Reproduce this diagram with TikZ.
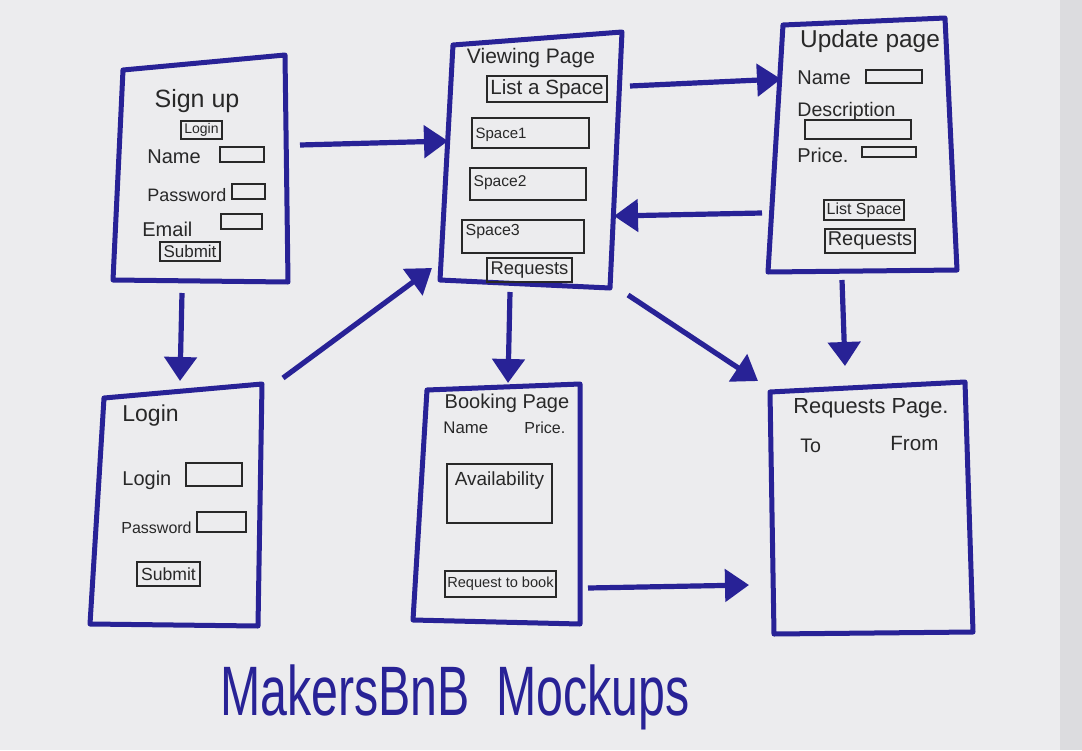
\documentclass[tikz,border=0pt]{standalone}
\usepackage{fontspec}
\setmainfont{Liberation Sans}
\usetikzlibrary{arrows.meta,fit}
\definecolor{penblue}{RGB}{40,34,150}
\definecolor{ink}{RGB}{40,40,40}
\definecolor{paper}{RGB}{236,236,238}
\definecolor{edgegray}{RGB}{220,220,223}
\begin{document}
\begin{tikzpicture}[x=0.5pt,y=-0.5pt,
  page/.style={draw=penblue,line width=2.5pt,line join=round},
  ui/.style={draw=ink,line width=0.8pt,inner sep=0pt},
  lbl/.style={text=ink,inner sep=0pt},
  flow/.style={draw=penblue,line width=2.6pt,-{Triangle[length=12pt,width=16pt]}}]
\fill[paper] (0,0) rectangle (1082,750);
\fill[edgegray] (1060,0) rectangle (1082,750);
\useasboundingbox (0,0) rectangle (1082,750);

% ---------- pages ----------
\draw[page] (123,70) -- (285,55) -- (288,282) -- (113,280) -- cycle;
\draw[page] (453,45) -- (622,32) -- (610,288) -- (440,280) -- cycle;
\draw[page] (783,25) -- (945,18) -- (957,270) -- (768,272) -- cycle;
\draw[page] (104,398) -- (262,384) -- (258,626) -- (90,624) -- cycle;
\draw[page] (427,390) -- (580,384) -- (580,624) -- (413,620) -- cycle;
\draw[page] (770,392) -- (965,382) -- (973,632) -- (774,634) -- cycle;

% ---------- Sign up ----------
\node[lbl,font=\fontsize{12.5}{14}\selectfont] (su-t) at (197,101) {Sign up};
\node[ui,fit={(181,121) (222,139)},label={[lbl,font=\fontsize{7}{8}\selectfont]center:Login}] (su-login) {};
\node[lbl,font=\fontsize{10}{12}\selectfont,anchor=west] (su-name) at (147,157) {Name};
\node[ui,fit={(220,147) (264,162)}] (su-namebox) {};
\node[lbl,font=\fontsize{9}{11}\selectfont,anchor=west] (su-pw) at (147,195) {Password};
\node[ui,fit={(232,184) (265,199)}] (su-pwbox) {};
\node[lbl,font=\fontsize{10}{12}\selectfont,anchor=west] (su-em) at (142,229) {Email};
\node[ui,fit={(221,214) (262,229)}] (su-embox) {};
\node[ui,fit={(160,242) (220,261)},label={[lbl,font=\fontsize{8.5}{10}\selectfont]center:Submit}] (su-sub) {};

% ---------- Viewing page ----------
\node[lbl,font=\fontsize{10.5}{12}\selectfont] (vp-t) at (531,58) {Viewing Page};
\node[ui,fit={(487,76) (607,102)},label={[lbl,font=\fontsize{10.3}{12}\selectfont]center:List a Space}] (vp-list) {};
\node[ui,fit={(472,118) (589,148)},label={[lbl,anchor=west,font=\fontsize{7.5}{9}\selectfont,xshift=2pt,yshift=-1pt]west:Space1}] (vp-s1) {};
\node[ui,fit={(470,168) (586,200)},label={[lbl,anchor=west,font=\fontsize{7.8}{9}\selectfont,xshift=2pt,yshift=0.5pt]west:Space2}] (vp-s2) {};
\node[ui,fit={(462,220) (584,253)},label={[lbl,anchor=west,font=\fontsize{8}{9}\selectfont,xshift=2pt,yshift=2.5pt]west:Space3}] (vp-s3) {};
\node[ui,fit={(487,258) (572,282)},label={[lbl,font=\fontsize{9.2}{11}\selectfont]center:Requests}] (vp-req) {};

% ---------- Update page ----------
\node[lbl,font=\fontsize{12.2}{14}\selectfont] (up-t) at (870,41) {Update page};
\node[lbl,font=\fontsize{10}{12}\selectfont,anchor=west] (up-name) at (797,78) {Name};
\node[ui,fit={(866,70) (922,83)}] (up-namebox) {};
\node[lbl,font=\fontsize{9.8}{12}\selectfont,anchor=west] (up-desc) at (797,111) {Description};
\node[ui,fit={(805,120) (911,139)}] (up-descbox) {};
\node[lbl,font=\fontsize{10}{12}\selectfont,anchor=west] (up-price) at (797,155) {Price.};
\node[ui,fit={(862,147) (916,157)}] (up-pricebox) {};
\node[ui,fit={(824,200) (904,220)},label={[lbl,font=\fontsize{8}{10}\selectfont]center:List Space}] (up-list) {};
\node[ui,fit={(825,229) (915,253)},label={[lbl,font=\fontsize{10}{12}\selectfont]center:Requests}] (up-req) {};

% ---------- Login ----------
\node[lbl,font=\fontsize{11.5}{14}\selectfont,anchor=west] (li-t) at (122,416) {Login};
\node[lbl,font=\fontsize{10}{12}\selectfont,anchor=west] (li-login) at (122,480) {Login};
\node[ui,fit={(186,463) (242,486)}] (li-loginbox) {};
\node[lbl,font=\fontsize{8}{10}\selectfont,anchor=west] (li-pw) at (121,528) {Password};
\node[ui,fit={(197,512) (246,532)}] (li-pwbox) {};
\node[ui,fit={(137,562) (200,586)},label={[lbl,font=\fontsize{8.8}{10}\selectfont]center:Submit}] (li-sub) {};

% ---------- Booking ----------
\node[lbl,font=\fontsize{10}{12}\selectfont] (bk-t) at (507,403) {Booking Page};
\node[lbl,font=\fontsize{8.4}{10}\selectfont,anchor=west] (bk-name) at (443,428) {Name};
\node[lbl,font=\fontsize{8}{10}\selectfont,anchor=west] (bk-price) at (524,428) {Price.};
\node[ui,fit={(447,464) (552,523)},label={[lbl,anchor=north,font=\fontsize{9.5}{11}\selectfont,yshift=-4pt]north:Availability}] (bk-av) {};
\node[ui,fit={(445,571) (556,597)},label={[lbl,font=\fontsize{7.3}{9}\selectfont]center:Request to book}] (bk-req) {};

% ---------- Requests ----------
\node[lbl,font=\fontsize{10.9}{13}\selectfont,anchor=west] (rq-t) at (793,408) {Requests Page.};
\node[lbl,font=\fontsize{9.8}{12}\selectfont,anchor=west] (rq-to) at (800,446) {To};
\node[lbl,font=\fontsize{10.3}{12}\selectfont,anchor=west] (rq-from) at (890,444) {From};

% ---------- title ----------
\node[text=penblue,inner sep=0pt,font=\fontsize{35}{40}\selectfont] (title) at (455,697) {\scalebox{0.69}[1]{MakersBnB\ \ Mockups}};

% ---------- arrows ----------
\coordinate (a1s) at (300,145); \coordinate (a1e) at (448,141);
\coordinate (a2s) at (630,86);  \coordinate (a2e) at (781,79);
\coordinate (a3s) at (762,213); \coordinate (a3e) at (614,216);
\coordinate (a4s) at (182,293); \coordinate (a4e) at (180,381);
\coordinate (a5s) at (283,378); \coordinate (a5e) at (432,268);
\coordinate (a6s) at (510,292); \coordinate (a6e) at (508,383);
\coordinate (a7s) at (628,295); \coordinate (a7e) at (758,381);
\coordinate (a8s) at (842,280); \coordinate (a8e) at (845,366);
\coordinate (a9s) at (588,588); \coordinate (a9e) at (749,585);
\draw[flow] (a1s) -- (a1e);
\draw[flow] (a2s) -- (a2e);
\draw[flow] (a3s) -- (a3e);
\draw[flow] (a4s) -- (a4e);
\draw[flow] (a5s) -- (a5e);
\draw[flow] (a6s) -- (a6e);
\draw[flow] (a7s) -- (a7e);
\draw[flow] (a8s) -- (a8e);
\draw[flow] (a9s) -- (a9e);
\end{tikzpicture}
\end{document}
